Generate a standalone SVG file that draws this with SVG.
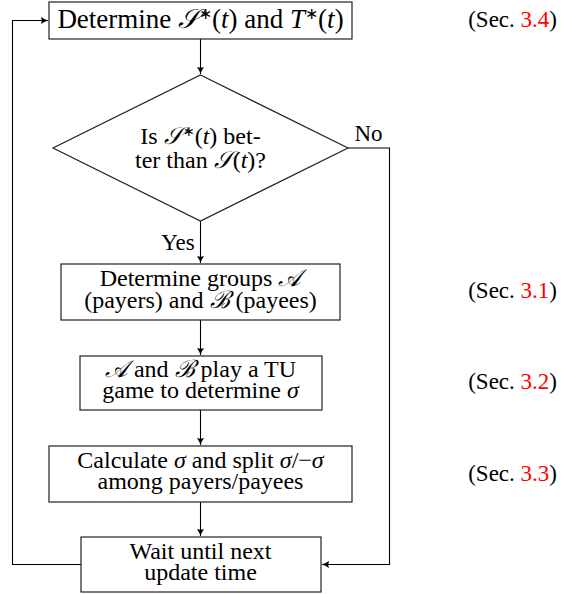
<svg xmlns="http://www.w3.org/2000/svg" width="561" height="594" viewBox="0 0 561 594">
<style>
.box{fill:#fff;stroke:#222;stroke-width:1.2}
.ln{fill:none;stroke:#000;stroke-width:1.1}
.sec{font-family:"Liberation Serif","Times New Roman",serif;font-size:23px;text-anchor:end;fill:#000}
.lbl{font-family:"Liberation Serif","Times New Roman",serif;font-size:23px;text-anchor:middle;fill:#000}
.m{font-style:italic}
.red{fill:#ff0000}
</style>
<defs>
<marker id="ah" markerWidth="10" markerHeight="10" viewBox="-8 -5 10 10" refX="0" refY="0" orient="auto" markerUnits="userSpaceOnUse">
<path d="M-7,-3.5 Q-3,-0.8 0,0 Q-3,0.8 -7,3.5 Q-5.5,0 -7,-3.5 Z" fill="#000"/>
</marker>
</defs>
<g id="connectors">
<line class="ln" x1="200.5" y1="39" x2="200.5" y2="74" marker-end="url(#ah)"/>
<line class="ln" x1="200.5" y1="221" x2="200.5" y2="263" marker-end="url(#ah)"/>
<line class="ln" x1="200.5" y1="320" x2="200.5" y2="355" marker-end="url(#ah)"/>
<line class="ln" x1="200.5" y1="410" x2="200.5" y2="445" marker-end="url(#ah)"/>
<line class="ln" x1="200.5" y1="502" x2="200.5" y2="536" marker-end="url(#ah)"/>
<polyline class="ln" points="348,148 389.5,148 389.5,564.5 322,564.5" marker-end="url(#ah)"/>
<polyline class="ln" points="81,564.5 12.5,564.5 12.5,20.5 48,20.5" marker-end="url(#ah)"/>
<text class="lbl" x="368.5" y="141">No</text>
<text class="lbl" x="178" y="250">Yes</text>
</g>
<g font-family="Liberation Serif, Times New Roman, serif" font-size="24" text-anchor="middle" fill="#000">
<g id="n1">
<rect class="box" x="49" y="2" width="303" height="37"/>
<text x="200.5" y="28" font-size="27" font-family="Liberation Serif, serif">Determine <tspan class="m">𝒮</tspan><tspan font-size="16" dy="-9">∗</tspan><tspan dy="9">(</tspan><tspan class="m">t</tspan>) and <tspan class="m">T</tspan><tspan font-size="16" dy="-9">∗</tspan><tspan dy="9">(</tspan><tspan class="m">t</tspan>)</text>
</g>
<g id="n2">
<polygon class="box" points="200.5,75 348,148 200.5,221 53,148"/>
<text x="200.5" y="144" font-family="Liberation Serif, serif">Is <tspan class="m">𝒮</tspan><tspan font-size="14" dy="-8">∗</tspan><tspan dy="8">(</tspan><tspan class="m">t</tspan>) bet-</text>
<text x="200.5" y="167.5" font-family="Liberation Serif, serif">ter than <tspan class="m">𝒮</tspan>(<tspan class="m">t</tspan>)?</text>
</g>
<g id="n3">
<rect class="box" x="61" y="264" width="279" height="56"/>
<text x="200.5" y="286" font-family="Liberation Serif, serif">Determine groups <tspan class="m">𝒜</tspan></text>
<text x="200.5" y="307.5" font-family="Liberation Serif, serif">(payers) and <tspan class="m">ℬ</tspan> (payees)</text>
</g>
<g id="n4">
<rect class="box" x="80" y="356" width="242" height="54"/>
<text x="200.5" y="376.5" font-family="Liberation Serif, serif"><tspan class="m">𝒜</tspan> and <tspan class="m">ℬ</tspan> play a TU</text>
<text x="200.5" y="398" font-family="Liberation Serif, serif">game to determine <tspan class="m">σ</tspan></text>
</g>
<g id="n5">
<rect class="box" x="49" y="446" width="303" height="56"/>
<text x="200.5" y="467.5" font-family="Liberation Serif, serif">Calculate <tspan class="m">σ</tspan> and split <tspan class="m">σ</tspan>/−<tspan class="m">σ</tspan></text>
<text x="200.5" y="489" font-family="Liberation Serif, serif">among payers/payees</text>
</g>
<g id="n6">
<rect class="box" x="81" y="537" width="240" height="55"/>
<text x="200.5" y="558.5" font-family="Liberation Serif, serif">Wait until next</text>
<text x="200.5" y="580" font-family="Liberation Serif, serif">update time</text>
</g>
</g>
<g id="labels">
<text class="sec" x="557" y="27">(Sec. <tspan class="red">3.4</tspan>)</text>
<text class="sec" x="557" y="298">(Sec. <tspan class="red">3.1</tspan>)</text>
<text class="sec" x="557" y="389">(Sec. <tspan class="red">3.2</tspan>)</text>
<text class="sec" x="557" y="481">(Sec. <tspan class="red">3.3</tspan>)</text>
</g>
</svg>
